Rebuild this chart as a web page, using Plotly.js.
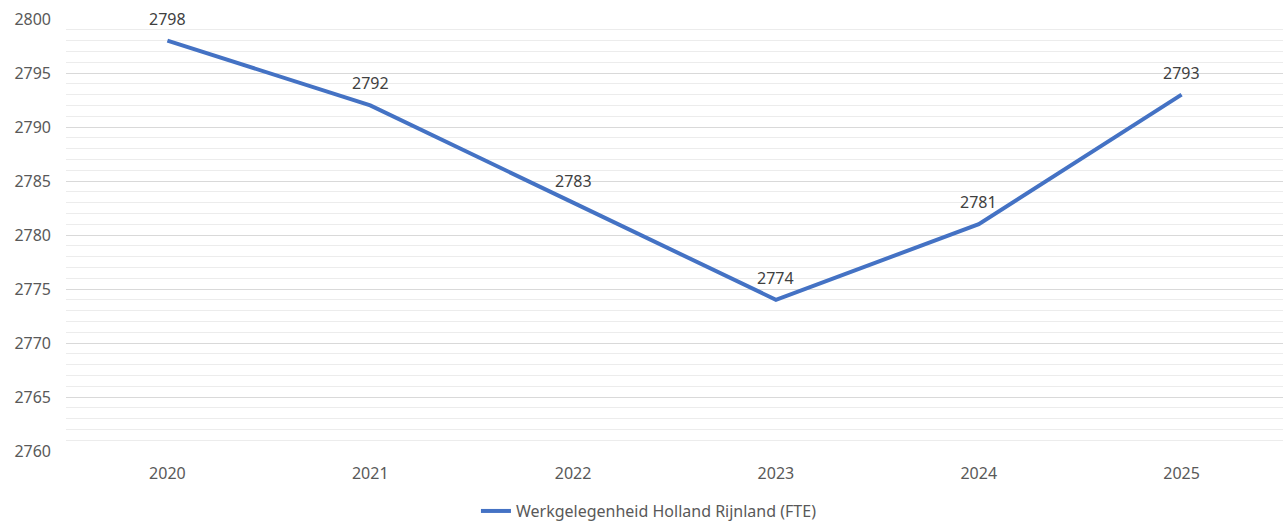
<!DOCTYPE html>
<html>
<head>
<meta charset="utf-8">
<script src="https://cdn.plot.ly/plotly-3.0.1.min.js"></script>
<style>
  html, body { margin: 0; padding: 0; background: #fff; }
  #chart { width: 1288px; height: 522px; }
</style>
</head>
<body>
<div id="chart"></div>
<script>
// Werkgelegenheid in Holland Rijnland per jaar (FTE)
const years = ['2020', '2021', '2022', '2023', '2024', '2025'];
const fte = [2798, 2792, 2783, 2774, 2781, 2793];
const seriesName = 'Werkgelegenheid Holland Rijnland (FTE)';

const fontFamily = '"Noto Sans", "Open Sans", sans-serif';
const lineColor = '#4472C4';

const trace = {
  type: 'scatter',
  mode: 'lines',
  x: years,
  y: fte,
  name: seriesName,
  line: { color: lineColor, width: 4 },
  hoverinfo: 'x+y'
};

// value labels above each point (x given as category index)
const labels = years.map((yr, i) => ({
  x: i,
  y: fte[i],
  xref: 'x',
  yref: 'y',
  text: String(fte[i]),
  showarrow: false,
  yshift: 22,
  font: { family: fontFamily, size: 16, color: '#404040' }
}));

const layout = {
  width: 1288,
  height: 522,
  margin: { l: 66, r: 5, t: 19, b: 71, autoexpand: false },
  paper_bgcolor: '#ffffff',
  plot_bgcolor: '#ffffff',
  font: { family: fontFamily, size: 16, color: '#595959' },
  showlegend: true,
  legend: {
    orientation: 'h',
    x: 0.479,
    xanchor: 'center',
    y: -0.139,
    yanchor: 'middle',
    font: { family: fontFamily, size: 16, color: '#595959' },
    itemwidth: 30
  },
  xaxis: {
    type: 'category',
    range: [-0.5, 5.5],
    showgrid: false,
    zeroline: false,
    showline: false,
    ticks: '',
    ticklabelstandoff: 11,
    tickfont: { family: fontFamily, size: 16, color: '#595959' },
    fixedrange: true
  },
  yaxis: {
    range: [2760, 2800],
    dtick: 5,
    tick0: 2760,
    showgrid: true,
    gridcolor: '#d9d9d9',
    gridwidth: 1,
    zeroline: false,
    showline: false,
    ticks: '',
    ticklabelstandoff: 14,
    tickfont: { family: fontFamily, size: 16, color: '#595959' },
    minor: {
      dtick: 1,
      tick0: 2760,
      showgrid: true,
      gridcolor: '#ececec',
      gridwidth: 1
    },
    fixedrange: true
  },
  annotations: labels
};

Plotly.newPlot('chart', [trace], layout, { displayModeBar: false, staticPlot: true });
</script>
</body>
</html>
